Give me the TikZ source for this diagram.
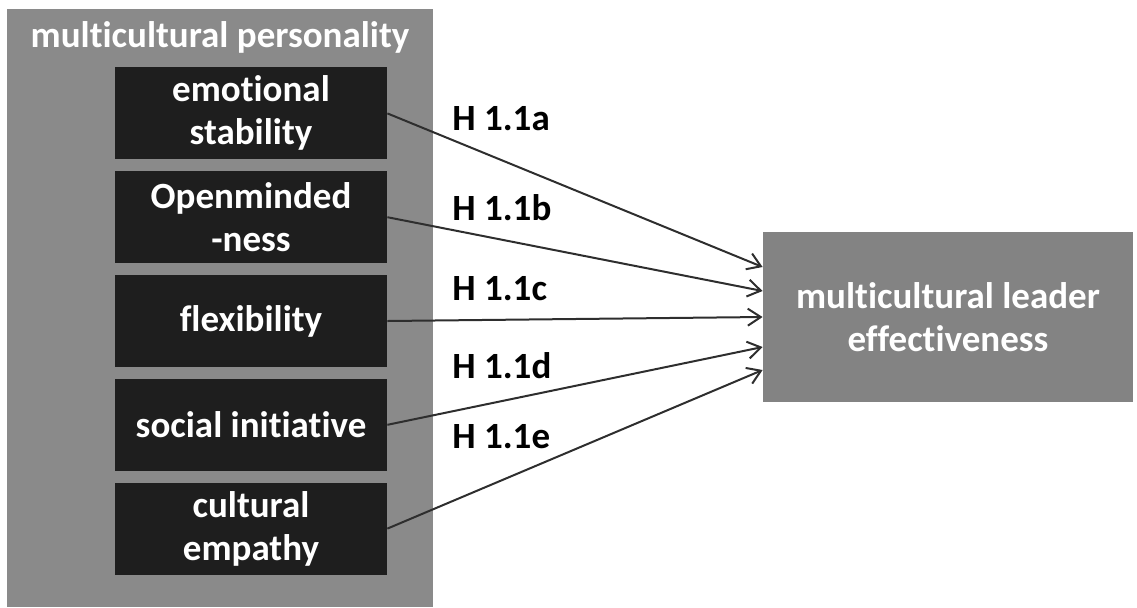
\documentclass[tikz,border=0pt]{standalone}
\usepackage{fontspec}
\setmainfont{Carlito}[Ligatures=NoCommon]
\usepackage{xcolor}
\definecolor{Slate}{HTML}{8A8A8A}
\definecolor{Coal}{HTML}{1E1E1E}
\definecolor{Ash}{HTML}{838383}
\definecolor{Ink}{HTML}{2E2E2E}
\usepackage{tikz}
\usetikzlibrary{arrows.meta,positioning}
\newcommand{\boxfont}{\bfseries\fontsize{18.5}{21.5}\selectfont}

\begin{document}
\begin{tikzpicture}[
  x=1pt,y=1pt,
  node distance=5.5pt,
  frame/.style={fill=Slate,draw=none,minimum width=213pt,minimum height=299pt,inner sep=0pt},
  heading/.style={anchor=base,text=white,font=\boxfont,inner sep=0pt},
  trait/.style={fill=Coal,minimum width=136pt,minimum height=46pt,inner sep=0pt,align=center,text=white,font=\boxfont},
  outcome/.style={fill=Ash,minimum width=185pt,minimum height=85pt,inner sep=0pt,align=center,text=white,font=\boxfont},
  hyp/.style={anchor=base west,inner sep=0pt,text=black,font=\boxfont},
  arrow/.style={-{Straight Barb[length=6.5pt,width=8.5pt]},line width=1pt,color=Ink}
]
\useasboundingbox (0,0) rectangle (568.5,-303.5);
\node[frame,anchor=north west] (pers) at (3.5,-4.5) {};
\node[heading] (ptitle) at (110,-23.5) {multicultural personality};
\node[trait,anchor=north] (emo) at (125.5,-33.5) {emotional\\stability};
\node[trait,below=of emo] (open) {Openminded\\-ness};
\node[trait,below=of open] (flex) {flexibility};
\node[trait,below=of flex] (soc) {social initiative};
\node[trait,below=of soc] (emp) {cultural\\empathy};
\node[outcome] (lead) at (474,-158.5) {multicultural leader\\effectiveness};

\draw[arrow] (emo.east) -- ([yshift=25pt]lead.west);
\draw[arrow] (open.east) -- ([yshift=13pt]lead.west);
\draw[arrow] (flex.east) -- (lead.west);
\draw[arrow] (soc.east) -- ([yshift=-15pt]lead.west);
\draw[arrow] (emp.east) -- ([yshift=-26.5pt]lead.west);

\node[hyp] (h1a) at (226,-65) {H 1.1a};
\node[hyp] (h1b) at (226,-110) {H 1.1b};
\node[hyp] (h1c) at (226,-150) {H 1.1c};
\node[hyp] (h1d) at (226,-189) {H 1.1d};
\node[hyp] (h1e) at (226,-224) {H 1.1e};
\end{tikzpicture}
\end{document}
